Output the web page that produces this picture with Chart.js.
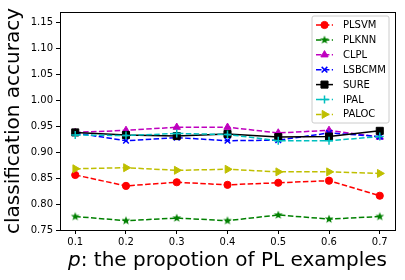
<html lang="en">
<head>
  <meta charset="UTF-8">
  <title>classification accuracy</title>
  <script src="https://cdn.jsdelivr.net/npm/chart.js"></script>
  <style>
    body { margin: 0; background: #fff; }
  </style>
</head>
<body>
  <div style="width: 405px; height: 280px;">
    <canvas id="accChart" width="405" height="280"></canvas>
  </div>

  <script>
    // values
    const proportions = [0.1, 0.2, 0.3, 0.4, 0.5, 0.6, 0.7];
    const yTicks = [0.75, 0.80, 0.85, 0.90, 0.95, 1.00, 1.05, 1.10, 1.15];

    const plsvm  = [0.856, 0.835, 0.842, 0.837, 0.841, 0.845, 0.816];
    const plknn  = [0.776, 0.768, 0.773, 0.768, 0.779, 0.771, 0.776];
    const clpl   = [0.938, 0.942, 0.948, 0.948, 0.937, 0.942, 0.929];
    const lsbcmm = [0.937, 0.922, 0.928, 0.922, 0.923, 0.937, 0.930];
    const sure   = [0.938, 0.933, 0.931, 0.935, 0.929, 0.930, 0.941];
    const ipal   = [0.933, 0.932, 0.936, 0.934, 0.922, 0.922, 0.930];
    const paloc  = [0.868, 0.870, 0.865, 0.867, 0.862, 0.862, 0.859];

    const FONT = 'DejaVu Sans';
    const DASH = [5.5, 2.4];

    // matplotlib style filled star
    function makeStar(color, r) {
      const c = document.createElement('canvas');
      const s = Math.ceil(r * 2 + 2);
      c.width = s; c.height = s;
      const g = c.getContext('2d');
      g.fillStyle = color;
      g.beginPath();
      for (let i = 0; i < 10; i++) {
        const rad = i % 2 === 0 ? r : r * 0.42;
        const ang = -Math.PI / 2 + i * Math.PI / 5;
        const px = s / 2 + rad * Math.cos(ang);
        const py = s / 2 + rad * Math.sin(ang);
        if (i === 0) g.moveTo(px, py); else g.lineTo(px, py);
      }
      g.closePath();
      g.fill();
      return c;
    }
    const starImg = makeStar('#008000', 4.6);

    function series(label, values, color, style, extra) {
      return Object.assign({
        label: label,
        data: proportions.map((x, i) => ({ x: x, y: values[i] })),
        borderColor: color,
        backgroundColor: color,
        borderWidth: 1.5,
        borderDash: DASH,
        tension: 0,
        pointStyle: style,
        pointRadius: 3.8,
        pointBorderWidth: 1,
        pointBorderColor: color,
        pointBackgroundColor: color,
        pointHoverRadius: 3.8
      }, extra || {});
    }

    const datasets = [
      series('PLSVM', plsvm, '#ff0000', 'circle', { pointRadius: 3.6 }),
      series('PLKNN', plknn, '#008000', starImg),
      series('CLPL', clpl, '#bf00bf', 'triangle', { pointRadius: 4.2 }),
      series('LSBCMM', lsbcmm, '#0000ff', 'crossRot', { pointRadius: 4, pointBorderWidth: 1.5 }),
      series('SURE', sure, '#000000', 'rect', { borderDash: [], pointRadius: 5 }),
      series('IPAL', ipal, '#00bfbf', 'cross', { pointRadius: 4, pointBorderWidth: 1.5 }),
      series('PALOC', paloc, '#bfbf00', 'triangle', { pointRadius: 4.6, pointRotation: 90 })
    ];
    // later series drawn on top, like matplotlib
    datasets.forEach((d, i) => { d.order = datasets.length - i; });

    const extras = {
      id: 'extras',
      afterDraw(chart) {
        const ctx = chart.ctx;
        const a = chart.chartArea;
        ctx.save();

        // box round the axes
        ctx.strokeStyle = '#000';
        ctx.lineWidth = 1;
        ctx.strokeRect(Math.round(a.left) + 0.5, Math.round(a.top) + 0.5,
          Math.round(a.right - a.left), Math.round(a.bottom - a.top));

        // legend in the upper right corner
        const lx = 312, ly = 16, lw = 77, lh = 107;
        ctx.globalAlpha = 0.8;
        ctx.fillStyle = '#fff';
        ctx.beginPath();
        ctx.roundRect(lx, ly, lw, lh, 2);
        ctx.fill();
        ctx.globalAlpha = 1;
        ctx.strokeStyle = '#cccccc';
        ctx.stroke();

        ctx.font = '10px "' + FONT + '"';
        ctx.textBaseline = 'middle';
        ctx.textAlign = 'left';
        chart.data.datasets.forEach((d, i) => {
          const y = 25 + i * 14.9;
          ctx.strokeStyle = d.borderColor;
          ctx.lineWidth = 1.5;
          ctx.setLineDash(d.borderDash);
          ctx.beginPath();
          ctx.moveTo(316, y);
          ctx.lineTo(333, y);
          ctx.stroke();
          ctx.setLineDash([]);
          ctx.fillStyle = d.pointBackgroundColor;
          ctx.strokeStyle = d.pointBorderColor;
          ctx.lineWidth = d.pointBorderWidth;
          Chart.helpers.drawPoint(ctx, {
            pointStyle: d.pointStyle,
            rotation: d.pointRotation || 0,
            radius: d.pointRadius,
            borderWidth: d.pointBorderWidth
          }, 324.5, y);
          ctx.fillStyle = '#000';
          ctx.fillText(d.label, 343, y + 0.5);
        });

        // x title with italic p
        const t1 = 'p';
        const t2 = ': the propotion of PL examples';
        ctx.fillStyle = '#000';
        ctx.textBaseline = 'alphabetic';
        ctx.font = 'italic 20px "' + FONT + '"';
        const w1 = ctx.measureText(t1).width;
        ctx.font = '20px "' + FONT + '"';
        const w2 = ctx.measureText(t2).width;
        const cx = (a.left + a.right) / 2;
        const x0 = cx - (w1 + w2) / 2;
        const by = 266;
        ctx.font = 'italic 20px "' + FONT + '"';
        ctx.fillText(t1, x0, by);
        ctx.font = '20px "' + FONT + '"';
        ctx.fillText(t2, x0 + w1, by);

        ctx.restore();
      }
    };

    new Chart(document.getElementById('accChart').getContext('2d'), {
      type: 'line',
      data: { datasets: datasets },
      options: {
        responsive: false,
        animation: false,
        events: [],
        layout: { padding: { left: 0, right: 10, top: 12, bottom: 0 } },
        plugins: {
          legend: { display: false },
          tooltip: { enabled: false }
        },
        scales: {
          x: {
            type: 'linear',
            min: 0.07,
            max: 0.73,
            afterBuildTicks: s => { s.ticks = proportions.map(v => ({ value: v })); },
            afterFit: s => { s.height = 50; },
            ticks: {
              color: '#000',
              font: { family: FONT, size: 10 },
              padding: 2,
              maxRotation: 0,
              callback: v => v.toFixed(1)
            },
            grid: { drawOnChartArea: false, drawTicks: true, tickLength: 4, color: '#000' },
            border: { display: true, color: '#000', width: 1 }
          },
          y: {
            type: 'linear',
            min: 0.75,
            max: 1.17,
            afterBuildTicks: s => { s.ticks = yTicks.map(v => ({ value: v })); },
            afterFit: s => { s.width = 60; },
            ticks: {
              color: '#000',
              font: { family: FONT, size: 10 },
              padding: 3,
              callback: v => v.toFixed(2)
            },
            grid: { drawOnChartArea: false, drawTicks: true, tickLength: 4, color: '#000' },
            border: { display: true, color: '#000', width: 1 },
            title: {
              display: true,
              text: 'classification accuracy',
              color: '#000',
              font: { family: FONT, size: 20 },
              padding: { top: 2, bottom: 0 }
            }
          }
        }
      },
      plugins: [extras]
    });
  </script>
</body>
</html>
